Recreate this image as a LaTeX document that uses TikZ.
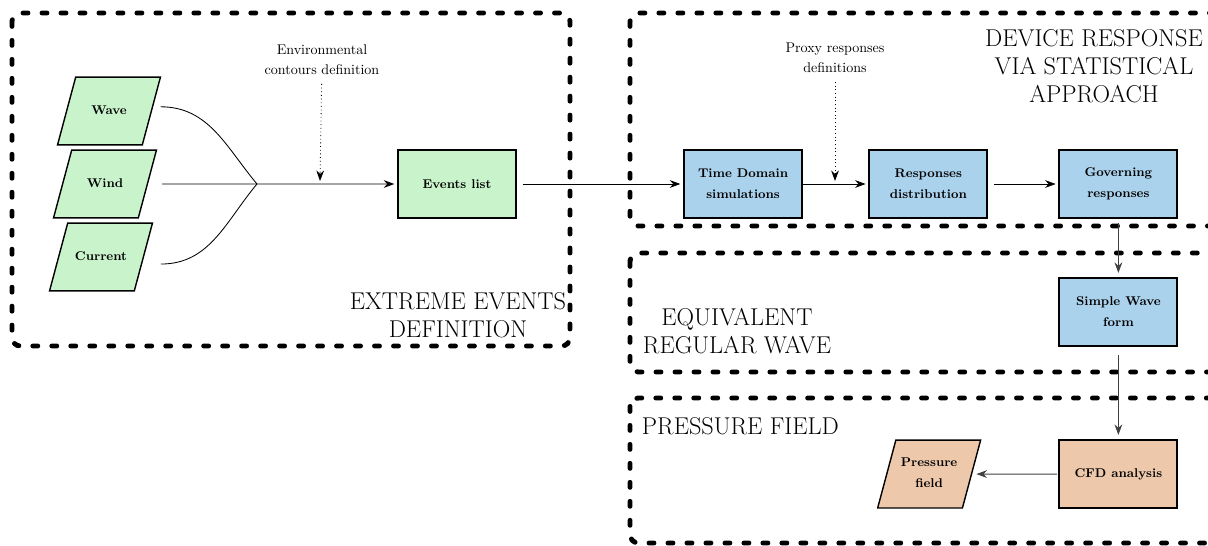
\documentclass[tikz,border=0pt]{standalone}
\usepackage{amsmath}
\usetikzlibrary{shapes.geometric,positioning,arrows.meta}

\definecolor{envgreen}{RGB}{201,243,203}
\definecolor{simblue}{RGB}{170,210,236}
\definecolor{cfdpeach}{RGB}{238,200,170}

\begin{document}
\begin{tikzpicture}[x=0.025cm,y=-0.025cm,node distance=2cm,on grid,
    >={Stealth[length=7.5pt,width=5.5pt,inset=2.5pt]},
    box/.style={draw,line width=1.3pt,minimum width=2.95cm,minimum height=1.7cm,align=center,
        font={\small\bfseries\baselineskip=15pt}},
    data/.style={draw,line width=1pt,trapezium,trapezium left angle=75,trapezium right angle=105,
        text width=40.7pt,text height=7.7pt,text depth=3.3pt,inner ysep=18.6pt,
        align=center,font={\small\bfseries\baselineskip=15pt}},
    frame/.style={line width=3.5pt,dash pattern=on 3.5pt off 10pt,line cap=round,rounded corners=6pt},
    title/.style={align=center,font={\LARGE\baselineskip=20pt}},
    note/.style={align=center,font={\normalsize\baselineskip=14pt}},
    link/.style={->,line width=0.6pt},
    line/.style={line width=0.6pt},
    hint/.style={->,dotted,line width=0.6pt}]
    \useasboundingbox (0,0) rectangle (1208,545);
    \clip (0,0) rectangle (1208,545);

    % regions
    \draw[frame] (12,13) rectangle (570,346);
    \draw[frame] (630,13) rectangle (1260,226);
    \draw[frame] (630,253) rectangle (1260,372);
    \draw[frame] (630,398) rectangle (1260,543);

    \node[title] (eetitle) at (458,315) {EXTREME EVENTS\\DEFINITION};
    \node[title] (drtitle) at (1094,66) {DEVICE RESPONSE\\VIA STATISTICAL\\APPROACH};
    \node[title] (rwtitle) at (737,331) {EQUIVALENT\\REGULAR WAVE};
    \node[title,anchor=west] (pftitle) at (637,426) {PRESSURE FIELD};

    % inputs
    \node[data,fill=envgreen] (wave) at (109,111) {Wave};
    \node[data,fill=envgreen] (wind) at (105,184) {Wind};
    \node[data,fill=envgreen] (current) at (101,257) {Current};

    % chain
    \node[box,fill=envgreen] (events) at (457,184) {Events list};
    \node[box,fill=simblue] (tds) [right=7.15cm of events] {Time Domain\\simulations};
    \node[box,fill=simblue] (dist) [right=4.63cm of tds] {Responses\\distribution};
    \node[box,fill=simblue] (gov) [right=4.75cm of dist] {Governing\\responses};
    \node[box,fill=simblue] (swf) [below=3.2cm of gov] {Simple Wave\\form};
    \node[box,fill=cfdpeach] (cfd) [below=4.05cm of swf] {CFD analysis};
    \node[data,fill=cfdpeach,text depth=18.3pt,inner ysep=11.1pt] (pressure) [left=4.73cm of cfd] {Pressure\\field};

    \node[note] (envnote) at (322,60) {Environmental\\contours definition};
    \node[note] (proxynote) at (835,58) {Proxy responses\\definitions};
    \coordinate (merge) at (257,184);
    \coordinate (envhit) at (320,181);
    \coordinate (proxyhit) at (835,181);

    \draw[line] ([xshift=6pt,yshift=3pt]wave.east) to[out=0,in=130] (merge);
    \draw[line] ([xshift=12pt,yshift=-5pt]current.east) to[out=0,in=-130] (merge);
    \draw[link] ([xshift=10pt]wind.east) -- ([xshift=-2pt]events.west);
    \draw[hint,shorten <=3pt] (envnote) -- (envhit);
    \draw[hint,shorten <=3pt] (proxynote) -- (proxyhit);

    \path[link]
    (events) edge[shorten <=4pt,shorten >=2pt] (tds)
    (tds) edge[shorten >=2pt] (dist)
    (dist) edge[shorten <=4pt,shorten >=2pt] (gov)
    (gov) edge[black!75,shorten <=3pt,shorten >=3pt] (swf)
    (swf) edge[black!75,shorten <=6pt,shorten >=3pt] (cfd)
    (cfd) edge[black!75,shorten <=1pt,shorten >=3pt] (pressure);

\end{tikzpicture}
\end{document}
